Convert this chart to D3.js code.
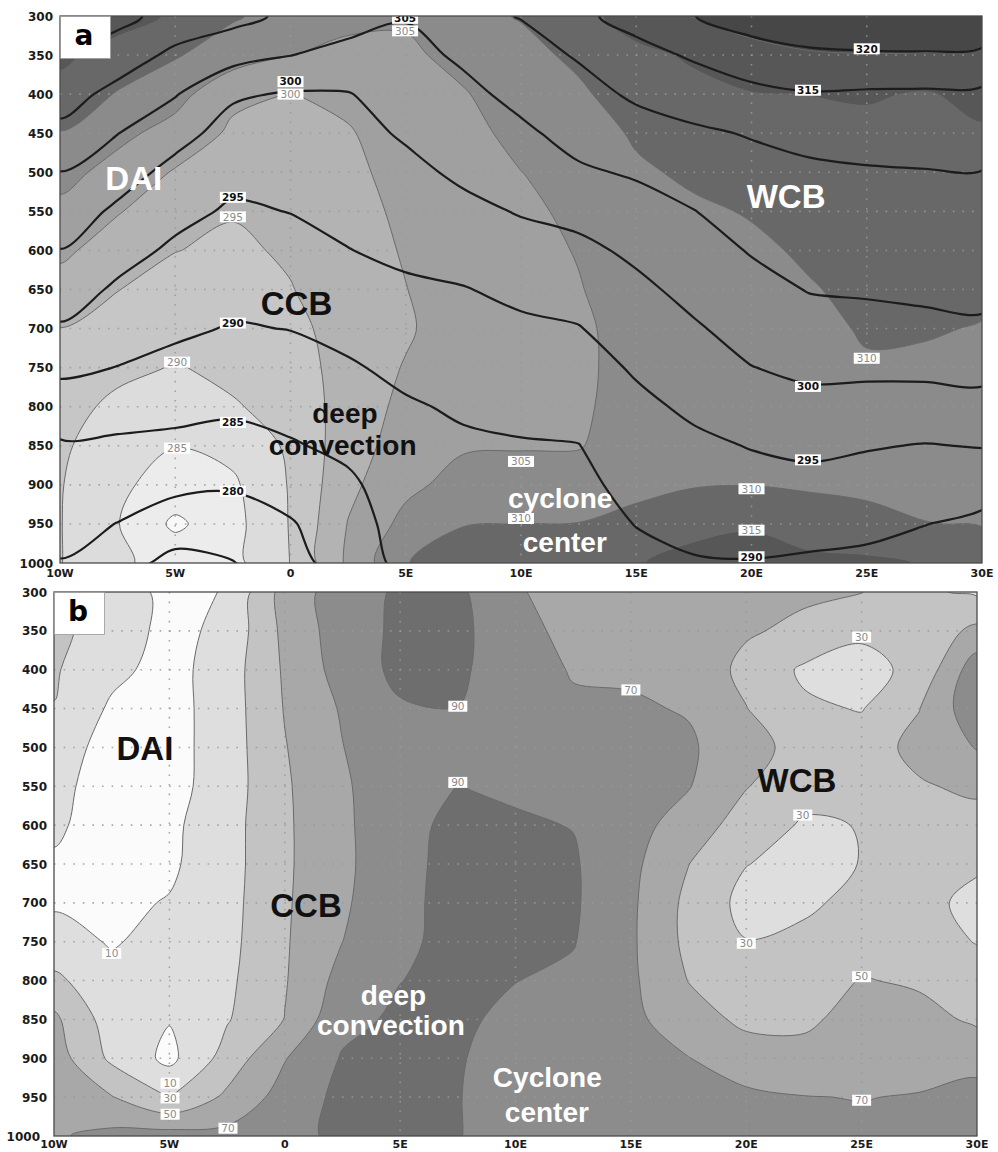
<!DOCTYPE html>
<html>
<head>
<meta charset="utf-8">
<title>Cross sections a / b</title>
<script src="https://cdn.jsdelivr.net/npm/d3@7/dist/d3.min.js"></script>
<style>
  body { margin: 0; background: #fff; }
  svg { display: block; }
  .tick { font-family: 'DejaVu Sans', sans-serif; font-weight: bold; font-size: 12px; fill: #1a1a1a; }
  .xtick { font-size: 11px; }
  .note { font-family: 'Liberation Sans', Arial, sans-serif; font-weight: bold; }
  .clab { font-family: 'DejaVu Sans', sans-serif; font-size: 10.5px; }
  .letter { font-family: 'DejaVu Sans', sans-serif; font-weight: bold; font-size: 28px; fill: #000; }
</style>
</head>
<body>
<svg id="chart" width="998" height="1152"></svg>
<script>
// grid the fields are read on (longitude columns, pressure rows)
var lonGrid = [-10, -7.5, -5, -2.5, 0, 2.5, 5, 7.5, 10, 12.5, 15, 17.5, 20, 22.5, 25, 27.5, 30];
var presGrid = [300, 350, 400, 450, 500, 550, 600, 650, 700, 750, 800, 850, 900, 950, 1000];

var lonTicks = [-10, -5, 0, 5, 10, 15, 20, 25, 30];
var lonTickLabels = ['10W', '5W', '0', '5E', '10E', '15E', '20E', '25E', '30E'];
var presTicks = [300, 350, 400, 450, 500, 550, 600, 650, 700, 750, 800, 850, 900, 950, 1000];

// panel a, shaded field (one row per pressure level)
var thetaE = [
  [318, 317.5, 314.2, 310.5, 308, 306, 305.6, 308.5, 310.3, 313.5, 317, 320.2, 322, 323, 324, 324.5, 325],
  [316.3, 312.7, 310.4, 307.5, 305.1, 304, 304.2, 306.3, 308.5, 311, 314, 315.6, 318.5, 319.6, 319.8, 319.7, 318.7],
  [313, 309.7, 306.8, 301, 299.9, 301.2, 303.2, 304.7, 307.2, 309.2, 312.5, 313.9, 314.8, 315.05, 315.4, 314.7, 316],
  [309.8, 306.3, 303.1, 299.2, 298.8, 299.6, 302.5, 303.8, 306.1, 307.6, 310.6, 312.2, 313.2, 313.9, 314, 314.2, 314.6],
  [306.7, 303.2, 299.6, 297.9, 297.7, 298.8, 301.8, 303.2, 304.95, 306.5, 309.3, 310.8, 311.8, 312.7, 313.2, 313.5, 313.6],
  [303.7, 300.3, 297.3, 295.3, 296.6, 298.2, 301, 302.8, 304.3, 305.7, 308.4, 309.3, 310.3, 311.5, 312.4, 312.7, 312.7],
  [301, 297.7, 295.1, 294.2, 295.6, 297.8, 300.4, 302.6, 303.8, 305.2, 307.8, 308.5, 309.2, 310.6, 311.6, 311.9, 311.7],
  [298, 295.1, 293.3, 293.1, 294.8, 297.5, 299.9, 302.5, 303.6, 304.8, 306.8, 308, 308.6, 309.7, 311, 311.1, 310.8],
  [294.9, 293.3, 291.5, 292, 293.5, 297.3, 299.4, 302.6, 303.6, 304.3, 306.5, 307.8, 308.3, 308.9, 310.4, 310.3, 309.8],
  [293.5, 291.3, 289.7, 291.1, 292.5, 297.2, 300.3, 302.9, 303.8, 304.2, 306.5, 307.9, 308.3, 308.5, 309.6, 309.4, 309.1],
  [292, 288.8, 287.3, 289.6, 291.6, 297.3, 301.2, 303.5, 304.2, 304.3, 306.8, 308.3, 308.6, 308.5, 308.8, 308.7, 308.6],
  [290.8, 287.2, 285.1, 286.5, 290.8, 297.8, 302.2, 304.5, 304.7, 304.7, 307.6, 308.9, 309.2, 308.8, 308.6, 308.4, 308.4],
  [290.3, 285.8, 283.2, 284.2, 290.4, 298.8, 303.8, 306.8, 307, 307.5, 309.1, 309.7, 309.9, 309.4, 309.1, 308.9, 308.8],
  [290.2, 285.2, 279, 283.4, 290.3, 300.2, 306.5, 309.8, 310.05, 310.1, 311, 313.3, 314.3, 312.6, 311.3, 310.1, 309.8],
  [290.2, 285.6, 283.6, 283.6, 290.1, 300.9, 309.8, 312.5, 313, 313.5, 314.6, 317, 318, 316.2, 316, 314.7, 312.5]
];

// panel a, black isolines
var theta = [
  [318, 316.5, 313, 311.5, 309, 307.5, 305.3, 308.5, 310.2, 314, 316.8, 319.9, 322.5, 324.5, 326, 326.5, 327],
  [315.2, 312.4, 309, 306.8, 305.1, 303.2, 303.6, 305.7, 308.2, 310.4, 313.4, 315.6, 317.7, 318.9, 319.2, 319.3, 318.4],
  [312, 308.6, 305.3, 300.6, 299.6, 299.8, 302, 303.9, 306.2, 308.4, 310.7, 312.2, 313.8, 314.7, 314.4, 314.3, 314.2],
  [308.8, 305.1, 301.6, 298.2, 298.1, 298.6, 300.5, 302.4, 304.2, 306.5, 308.1, 309.3, 310.3, 311.3, 311.8, 312, 312],
  [304.9, 302, 298.6, 296.3, 296.6, 297.3, 298.9, 300.8, 302.3, 304.4, 305.5, 307.1, 308.5, 309.2, 309.6, 309.8, 309.9],
  [302.5, 299.2, 296.3, 294.4, 295.1, 296.1, 297.4, 298.9, 300.3, 301.4, 303.2, 304.9, 306.9, 307.9, 308.2, 308.5, 308.4],
  [299.9, 296.7, 294.2, 292.9, 293.4, 294.9, 295.9, 296.8, 298.2, 298.9, 300.9, 303.1, 305.3, 306.5, 306.9, 307.2, 307.3],
  [297.3, 294.3, 292.5, 291.3, 291.7, 293.1, 294.3, 294.8, 296, 296.8, 299, 301.3, 303.5, 305.2, 305.5, 305.8, 306],
  [294.5, 292.1, 290.8, 289.7, 290.1, 291.3, 292.7, 293.4, 294.2, 294.8, 297.2, 299.5, 301.7, 303.2, 303.5, 304, 304.4],
  [291, 289.9, 288.7, 287.8, 288.3, 289.5, 291.1, 292, 292.7, 293.2, 295.5, 297.6, 299.9, 301, 301, 301.1, 301.5],
  [287.5, 286.9, 286.2, 285.8, 286.5, 287.8, 289.5, 290.6, 291.1, 291.6, 294, 295.8, 297.6, 298.6, 298.2, 298.1, 298.4],
  [284.5, 284.2, 284, 283.3, 284.6, 286, 288.3, 289.3, 289.7, 289.9, 292.7, 294.1, 295.2, 296, 295.3, 294.8, 295.2],
  [283, 282.1, 281, 280.5, 282.1, 284.2, 287.5, 288.5, 289, 289, 291.3, 292.6, 293.4, 293.6, 293.2, 292.4, 291.8],
  [281.5, 279.9, 277.7, 277.8, 279.6, 283, 287, 288, 288.5, 288.5, 290.1, 291.1, 291.6, 291.5, 291.1, 290.1, 289],
  [279.8, 277, 273.5, 274.8, 278.5, 282, 286.5, 287.5, 288, 288, 289, 289.7, 289.8, 289.4, 289, 288, 287]
];

// panel b, shaded field
var rh = [
  [38, 20, 5, 11, 58, 80, 93, 94, 72, 62, 60, 58, 56, 53, 50.5, 33, 27],
  [35, 21, 4, 15, 55, 80, 94, 95, 77, 64, 62, 60, 52, 46, 33, 36, 55],
  [32, 15, 3, 20, 52.5, 78, 95, 93, 80, 68.5, 67, 63, 45, 27, 24, 35, 82],
  [29.5, 7, 2.5, 20, 51, 72, 88, 89.8, 82, 73, 72.5, 68.5, 50.5, 33, 29, 49.5, 84],
  [18, 4, 2.5, 20, 49, 69.5, 86, 87.5, 84, 77, 76, 73, 56, 44, 40, 56, 71],
  [14, 3.5, 3, 20, 47.5, 67, 84.5, 90.2, 87.5, 82, 77, 71, 51, 36, 36, 48, 54],
  [12, 4, 6, 22, 47, 66, 85, 94, 92, 89.5, 76.5, 62, 40, 28, 30.5, 42, 42],
  [8.5, 5, 7, 22, 47, 65.5, 85, 95.5, 94, 92, 75, 50.3, 30.5, 24, 30.5, 39, 33],
  [8.5, 6.5, 11, 23, 47.5, 67, 85.5, 96, 94.5, 92.5, 73.5, 45, 24, 27, 35, 36.5, 24],
  [15, 9, 14, 24, 48, 69.9, 86.5, 95.5, 93.5, 91, 73, 45, 30.5, 34, 42, 40, 29],
  [35, 14, 13, 26, 48.5, 77, 89.7, 94.5, 90.3, 86.5, 73.5, 49.5, 38, 40, 51, 47.5, 40],
  [54, 20, 11, 28.5, 50.5, 85, 93, 93, 86, 82, 75, 58, 46, 46, 58, 56, 47],
  [60, 26, 5, 38, 69, 91.5, 95, 91.5, 82, 79, 78, 70.5, 59, 57, 63, 63, 62],
  [64, 51, 29.8, 54, 78, 95, 96, 90.8, 80, 77, 80, 79, 74, 70.5, 69.5, 71, 78],
  [68, 75, 78, 76, 84, 94, 95, 91, 79, 76, 81, 82, 80, 76, 74, 76, 82]
];

var thetaELevels = [280, 285, 290, 295, 300, 305, 310, 315, 320];
var thetaLevels = [275, 280, 285, 290, 295, 300, 305, 310, 315, 320];
var rhLevels = [10, 30, 50, 70, 90];

// contour labels: [value, lon, pressure]
var thetaELabels = [[305, 4.97, 319], [300, 0, 400], [295, -2.5, 557], [290, -4.92, 743], [285, -4.92, 853],
  [305, 10, 870], [310, 10, 943], [310, 20, 905], [315, 20, 958], [310, 25, 738]];
var thetaLabels = [[305, 4.97, 303], [300, 0, 384], [295, -2.5, 532], [290, -2.5, 693], [285, -2.5, 820],
  [280, -2.5, 908], [320, 25, 342], [315, 22.45, 395], [300, 22.45, 774], [295, 22.45, 868], [290, 20, 992]];
var rhLabels = [[90, 7.5, 447], [90, 7.5, 545], [70, 15, 426], [30, 25, 358], [30, 22.45, 587], [10, -7.5, 765],
  [10, -4.97, 932], [30, -4.97, 951], [50, -4.97, 972], [70, -2.46, 990], [30, 20, 752], [50, 25, 795], [70, 25, 954]];

// region names: [text, lon, pressure]
var notesA = [['DAI', -6.8, 523], ['WCB', 21.5, 546], ['CCB', 0.26, 683], ['deep', 2.36, 821],
  ['convection', 2.26, 862], ['cyclone', 11.7, 930], ['center', 11.9, 986]];
var notesB = [['DAI', -6.06, 516], ['WCB', 22.2, 557], ['CCB', 0.92, 718], ['deep', 4.71, 832],
  ['convection', 4.6, 870], ['Cyclone', 11.38, 937], ['center', 11.36, 982]];

// grey ramps, lowest band first
var thetaEShades = ['#f8f8f8', '#ececec', '#dcdcdc', '#c6c6c6', '#b3b3b3', '#a0a0a0', '#8b8b8b', '#686868', '#575757', '#474747'];
var rhShades = ['#fbfbfb', '#dedede', '#c3c3c3', '#a8a8a8', '#8c8c8c', '#6e6e6e'];

var svg = d3.select('#chart');
var dLon = lonGrid[1] - lonGrid[0],
    dPres = presGrid[1] - presGrid[0];
var ringLine = d3.line().curve(d3.curveCatmullRomClosed.alpha(0.5));

function contourSet(field, levels) {
  return d3.contours().size([lonGrid.length, presGrid.length]).thresholds(levels)(d3.merge(field));
}

// grid coords -> pixels, each value sits at index + 0.5
function contourPath(geom, x, y) {
  return geom.coordinates.map(function(polygon) {
    return polygon.map(function(r) {
      var pts = r.slice(0, -1).map(function(pt) {
        return [x(lonGrid[0] + (pt[0] - 0.5) * dLon), y(presGrid[0] + (pt[1] - 0.5) * dPres)];
      });
      return pts.length > 2 ? ringLine(pts) : '';
    }).join('');
  }).join('');
}

function drawLabels(g, labels, x, y, color, weight) {
  var lab = g.selectAll(null).data(labels).enter().append('g')
      .attr('transform', function(d) { return 'translate(' + x(d[1]) + ',' + y(d[2]) + ')'; });
  lab.append('rect')
      .attr('x', function(d) { return -(String(d[0]).length * 7 + 5) / 2; })
      .attr('y', -5.5)
      .attr('width', function(d) { return String(d[0]).length * 7 + 5; })
      .attr('height', 11)
      .attr('fill', '#fff');
  lab.append('text')
      .attr('class', 'clab')
      .attr('text-anchor', 'middle')
      .attr('dy', '0.36em')
      .style('fill', color)
      .style('font-weight', weight)
      .text(function(d) { return d[0]; });
}

function drawPanel(opt) {
  var x = d3.scaleLinear().domain([lonTicks[0], lonTicks[lonTicks.length - 1]]).range([opt.left, opt.right]);
  var y = d3.scaleLinear().domain([presTicks[0], presTicks[presTicks.length - 1]]).range([opt.top, opt.bottom]);

  svg.append('clipPath').attr('id', 'clip-' + opt.name)
    .append('rect')
      .attr('x', opt.left).attr('y', opt.top)
      .attr('width', opt.right - opt.left).attr('height', opt.bottom - opt.top);

  var plot = svg.append('g').attr('clip-path', 'url(#clip-' + opt.name + ')');

  plot.append('rect')
      .attr('x', opt.left).attr('y', opt.top)
      .attr('width', opt.right - opt.left).attr('height', opt.bottom - opt.top)
      .attr('fill', opt.shades[0]);

  var shaded = contourSet(opt.field, opt.levels);
  plot.selectAll(null).data(shaded).enter().append('path')
      .attr('d', function(d) { return contourPath(d, x, y); })
      .attr('fill', function(d, i) { return opt.shades[i + 1]; })
      .attr('fill-rule', 'evenodd');

  // dotted grid
  plot.selectAll(null).data(lonTicks.slice(1, -1)).enter().append('line')
      .attr('x1', function(d) { return x(d); }).attr('x2', function(d) { return x(d); })
      .attr('y1', opt.top).attr('y2', opt.bottom)
      .style('stroke', '#9a9a9a').style('stroke-width', 1.6)
      .style('stroke-dasharray', '1.6,8').style('opacity', 0.85);
  plot.selectAll(null).data(presTicks.slice(1, -1)).enter().append('line')
      .attr('y1', function(d) { return y(d); }).attr('y2', function(d) { return y(d); })
      .attr('x1', opt.left).attr('x2', opt.right)
      .style('stroke', '#9a9a9a').style('stroke-width', 1.6)
      .style('stroke-dasharray', '1.6,8').style('opacity', 0.85);

  // thin outlines of the shaded bands
  plot.selectAll(null).data(shaded).enter().append('path')
      .attr('d', function(d) { return contourPath(d, x, y); })
      .style('fill', 'none').style('stroke', '#6a6a6a').style('stroke-width', 1);

  if (opt.lineField) {
    plot.selectAll(null).data(contourSet(opt.lineField, opt.lineLevels)).enter().append('path')
        .attr('d', function(d) { return contourPath(d, x, y); })
        .style('fill', 'none').style('stroke', '#1c1c1c').style('stroke-width', 2.2)
        .style('stroke-linejoin', 'round');
  }

  drawLabels(plot, opt.labels, x, y, '#8a8a8a', 'normal');
  if (opt.lineLabels) drawLabels(plot, opt.lineLabels, x, y, '#111', 'bold');

  // region names
  plot.selectAll(null).data(opt.notes).enter().append('text')
      .attr('class', 'note')
      .attr('x', function(d) { return x(d[1]); })
      .attr('y', function(d) { return y(d[2]); })
      .attr('text-anchor', 'middle')
      .style('font-size', function(d, i) { return i < 3 ? '33px' : '28px'; })
      .style('fill', function(d, i) { return opt.noteColors[i]; })
      .text(function(d) { return d[0]; });

  // frame
  svg.append('rect')
      .attr('x', opt.left).attr('y', opt.top)
      .attr('width', opt.right - opt.left).attr('height', opt.bottom - opt.top)
      .style('fill', 'none').style('stroke', '#4a4a4a').style('stroke-width', 1.3);

  // panel letter
  svg.append('rect')
      .attr('x', opt.left + 0.5).attr('y', opt.top + 0.5)
      .attr('width', 50).attr('height', 42)
      .style('fill', '#fff').style('stroke', '#9a9a9a').style('stroke-width', 0.8);
  svg.append('text').attr('class', 'letter')
      .attr('x', opt.left + 24).attr('y', opt.top + 29)
      .attr('text-anchor', 'middle')
      .text(opt.name);

  // axis labels
  svg.selectAll(null).data(presTicks).enter().append('text')
      .attr('class', 'tick')
      .attr('x', function(d, i) { return opt.left - 7 - (i === presTicks.length - 1 ? opt.lastShift : 0); })
      .attr('y', function(d) { return y(d) + 4.5; })
      .attr('text-anchor', 'end')
      .text(function(d) { return d; });
  svg.selectAll(null).data(lonTicks).enter().append('text')
      .attr('class', 'tick xtick')
      .attr('x', function(d) { return x(d); })
      .attr('y', opt.bottom + opt.xLabelGap)
      .attr('text-anchor', 'middle')
      .text(function(d, i) { return lonTickLabels[i]; });
}

drawPanel({
  name: 'a', left: 60, right: 982, top: 16, bottom: 563, xLabelGap: 14, lastShift: 0,
  field: thetaE, levels: thetaELevels, shades: thetaEShades, labels: thetaELabels,
  lineField: theta, lineLevels: thetaLevels, lineLabels: thetaLabels,
  notes: notesA, noteColors: ['#fff', '#fff', '#111', '#111', '#111', '#fff', '#fff']
});

drawPanel({
  name: 'b', left: 54, right: 977, top: 592, bottom: 1136, xLabelGap: 12, lastShift: 7,
  field: rh, levels: rhLevels, shades: rhShades, labels: rhLabels,
  notes: notesB, noteColors: ['#111', '#111', '#111', '#fff', '#fff', '#fff', '#fff']
});
</script>
</body>
</html>
